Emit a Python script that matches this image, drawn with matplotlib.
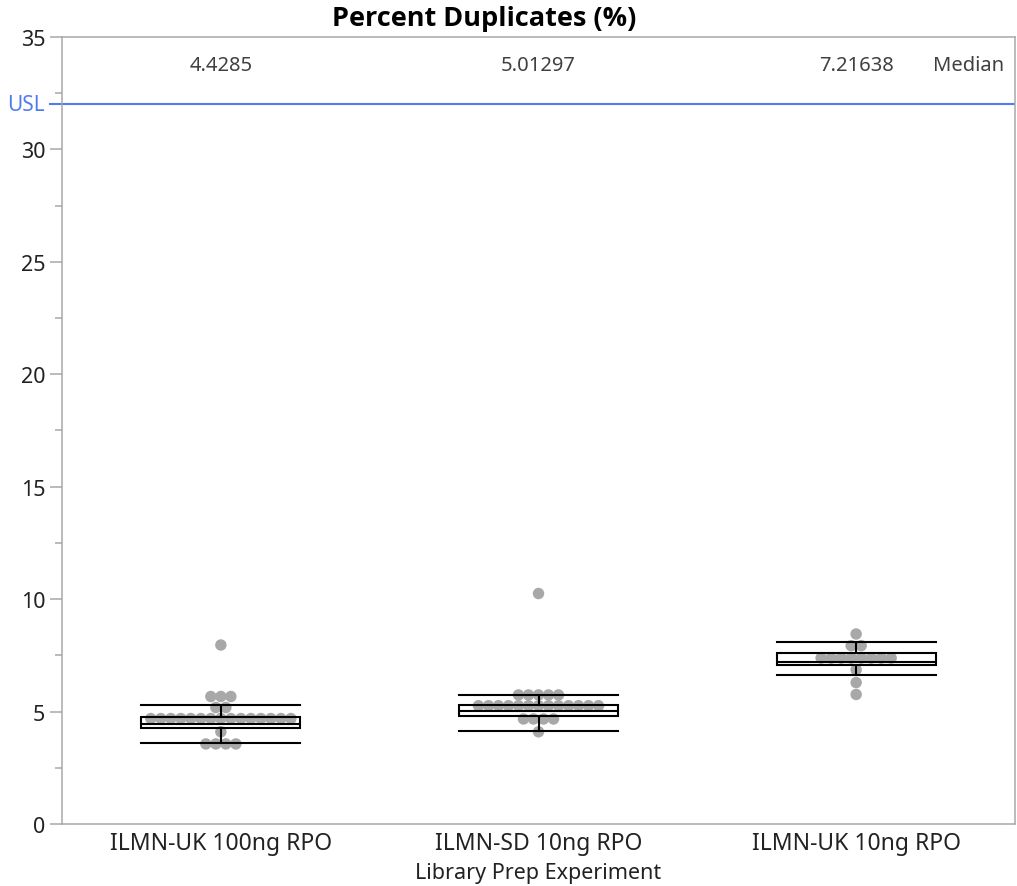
import matplotlib
matplotlib.use("Agg")
import matplotlib.pyplot as plt
import numpy as np

plt.rcParams['font.family'] = ['Noto Sans', 'DejaVu Sans']

# --- data ---
categories = ["ILMN-UK 100ng RPO", "ILMN-SD 10ng RPO", "ILMN-UK 10ng RPO"]

uk100_values = [7.96] + [5.67] * 3 + [5.18] * 2 + [4.69] * 15 + [4.10] + [3.56] * 4
sd10_values = [10.25] + [5.74] * 5 + [5.26] * 13 + [4.67] * 4 + [4.10]
uk10_values = [8.45] + [7.93] * 2 + [7.38] * 8 + [6.86, 6.29, 5.76]
group_values = [uk100_values, sd10_values, uk10_values]

medians = [4.4285, 5.01297, 7.21638]
q1 = [4.27, 4.82, 7.05]
q3 = [4.77, 5.29, 7.62]
whisker_lo = [3.60, 4.12, 6.62]
whisker_hi = [5.30, 5.74, 8.11]

usl = 32

# --- figure ---
fig = plt.figure(figsize=(10.17, 8.87), dpi=100)
ax = fig.add_axes([0.061, 0.0699, 0.937, 0.8873])

grey_pt = '#a8a8a8'
spine_col = '#a8a8a8'

# points, stacked side by side when they share a value
step = 0.0315
for i, vals in enumerate(group_values):
    uniq, counts = np.unique(vals, return_counts=True)
    for v, n in zip(uniq, counts):
        offs = (np.arange(n) - (n - 1) / 2) * step
        ax.scatter(i + offs, [v] * n, s=68, color=grey_pt, edgecolors='none', zorder=2)

stats = []
for i in range(len(categories)):
    stats.append(dict(med=medians[i], q1=q1[i], q3=q3[i],
                      whislo=whisker_lo[i], whishi=whisker_hi[i], fliers=[]))
lw = 1.5
ax.bxp(stats, positions=range(len(categories)), widths=0.5, capwidths=0.5,
       showfliers=False, patch_artist=True,
       boxprops=dict(facecolor='none', edgecolor='black', linewidth=lw),
       medianprops=dict(color='black', linewidth=lw),
       whiskerprops=dict(color='black', linewidth=lw),
       capprops=dict(color='black', linewidth=lw),
       zorder=3)

# USL line
ax.axhline(usl, color='#4f7cf0', linewidth=1.5, zorder=1)
ax.plot([-0.013, 0], [usl, usl], color='#4f7cf0', linewidth=1.5,
        transform=ax.get_yaxis_transform(), clip_on=False)
ax.text(-0.018, usl, 'USL', color='#4f7cf0', fontsize=15, ha='right', va='center',
        transform=ax.get_yaxis_transform())

# median labels on top
for i, m in enumerate(medians):
    ax.text(i, 33.75, f'{m:g}', ha='center', va='center', fontsize=14.5, color='#404040')
ax.text(2.355, 33.75, 'Median', ha='center', va='center', fontsize=14.5, color='#404040')

ax.set_xlim(-0.5, 2.5)
ax.set_ylim(0, 35)
ax.set_xticks(range(len(categories)))
ax.set_xticklabels(categories, fontsize=16.5, color='#222222')
ax.set_yticks(np.arange(0, 36, 5))
ax.set_yticks(np.arange(2.5, 35, 5), minor=True)
ax.tick_params(axis='y', which='major', length=9, width=1.1, color=spine_col,
               labelsize=15.5, labelcolor='#222222', pad=3)
ax.tick_params(axis='y', which='minor', length=5, width=1.1, color=spine_col)
ax.tick_params(axis='x', length=0, pad=5)
for s in ax.spines.values():
    s.set_color(spine_col)
    s.set_linewidth(1.1)

ax.set_xlabel('Library Prep Experiment', fontsize=15.5, color='#222222', labelpad=5)
fig.text(0.476, 0.979, 'Percent Duplicates (%)', ha='center', va='center',
         fontsize=19.5, fontweight='bold', color='black', family=['Open Sans'])

fig.savefig('out.png', dpi=100, facecolor='white')
